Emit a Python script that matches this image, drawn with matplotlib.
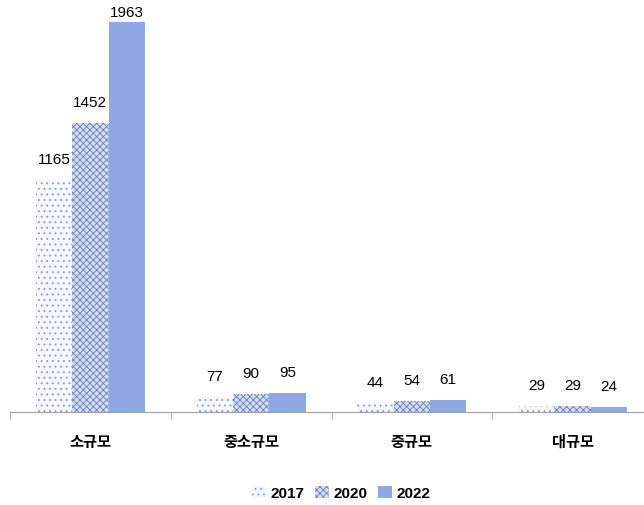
import matplotlib
matplotlib.use("Agg")
import matplotlib.pyplot as plt
import numpy as np

plt.rcParams['font.family'] = ['Noto Sans CJK KR', 'DejaVu Sans']
plt.rcParams['hatch.linewidth'] = 0.6

categories = ['소규모', '중소규모', '중규모', '대규모']
years = ['2017', '2020', '2022']
v2017 = [1165, 77, 44, 29]
v2020 = [1452, 90, 54, 29]
v2022 = [1963, 95, 61, 24]

fig = plt.figure(figsize=(6.44, 5.06), dpi=100)
# axes box: left boundary tick at x=10px, axis line at y=413px
ax = fig.add_axes([10/644, 93/506, 643/644, 405/506])

x = np.arange(len(categories))
w = 0.226
styles = [
    dict(facecolor='#F3F6FC', edgecolor='#8A99C0', hatch='...'),
    dict(facecolor='#D3DDF2', edgecolor='#6A80B4', hatch='xxxxx'),
    dict(facecolor='#8FA7E2', edgecolor='#8FA7E2', hatch=None),
]
num_font = ['Liberation Sans', 'DejaVu Sans']
handles = []
for i, (vals, yr) in enumerate(zip([v2017, v2020, v2022], years)):
    bars = ax.bar(x + (i - 1) * w, vals, w, label=yr, linewidth=0, **styles[i])
    handles.append(bars)
    for b, v in zip(bars, vals):
        off = 2 if v > 1900 else 10
        ax.annotate(str(v), (b.get_x() + b.get_width() / 2, v),
                    xytext=(0, off), textcoords='offset points',
                    ha='center', va='bottom', fontsize=11, color='black',
                    family=num_font)

ax.set_xlim(-0.5, 3.5)
ax.set_ylim(0, 2037)
for s in ['top', 'right', 'left']:
    ax.spines[s].set_visible(False)
ax.spines['bottom'].set_color('#A0A0A0')
ax.set_yticks([])
ax.set_xticks(x)
ax.set_xticklabels(categories, fontsize=11, fontweight='bold')
ax.tick_params(axis='x', length=0, pad=15)
ax.set_xticks(np.arange(-0.5, 4, 1), minor=True)
ax.tick_params(axis='x', which='minor', length=5, color='#A0A0A0')

fig.legend(handles=handles, labels=years, loc='center', bbox_to_anchor=(341/644, 1 - 494/506),
           ncol=3, frameon=False, handlelength=0.9, handleheight=0.9,
           handletextpad=0.3, columnspacing=0.7,
           prop={'weight': 'bold', 'size': 11, 'family': num_font})

fig.savefig('out.png', dpi=100)
